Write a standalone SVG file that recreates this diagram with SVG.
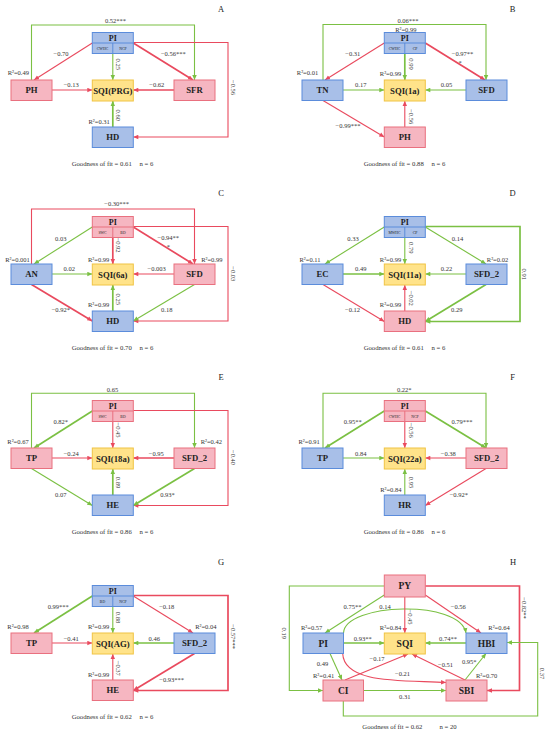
<svg xmlns="http://www.w3.org/2000/svg" width="550" height="733" viewBox="0 0 550 733">
<style>
.pk{fill:#F6B6C1;stroke:#E9707F;stroke-width:1}
.bl{fill:#A8BFE8;stroke:#5B8CDB;stroke-width:1}
.ye{fill:#FFE38A;stroke:#F0C444;stroke-width:1}
.dv{fill:none}
.r{fill:none;stroke:#E94A5E;stroke-width:1.1;marker-end:url(#mr)}
.g{fill:none;stroke:#7BC043;stroke-width:1.1;marker-end:url(#mg)}
.t{stroke-width:1.7}
text{font-family:"Liberation Serif","Times New Roman",serif;fill:#222}
.nl{font-size:8.7px;font-weight:bold;text-anchor:middle}
.hl{font-size:9.5px;font-weight:bold;text-anchor:middle}
.pl{font-size:8px;font-weight:bold;text-anchor:middle}
.cl{font-size:3.8px;text-anchor:middle}
.el{font-size:6.5px;text-anchor:middle;fill:#333}
.gf{font-size:6.7px;fill:#333}
.ge{font-size:6.7px;fill:#333;text-anchor:end}
.lt{font-size:8.5px;text-anchor:middle}
</style>
<defs>
<marker id="mr" viewBox="0 0 10 10" refX="10" refY="5" markerWidth="5.5" markerHeight="5" markerUnits="userSpaceOnUse" orient="auto"><path d="M0,0.5L10,5L0,9.5z" fill="#E94A5E"/></marker>
<marker id="mg" viewBox="0 0 10 10" refX="10" refY="5" markerWidth="5.5" markerHeight="5" markerUnits="userSpaceOnUse" orient="auto"><path d="M0,0.5L10,5L0,9.5z" fill="#7BC043"/></marker>
</defs>
<rect x="0" y="0" width="550" height="733" fill="#fff"/>

<!-- Panel A -->
<g id="panelA">
<text class="lt" x="221" y="11.5">A</text>
<g id="A-connectors">
<path class="g" d="M31.5,80V25H194.5V80"/>
<path class="r" d="M92.3,43L34,80"/>
<path class="g" d="M112.8,53.5V80"/>
<path class="r t" d="M133.3,43L193,80"/>
<path class="r" d="M133.3,42.5H228V137H133.3"/>
<path class="r" d="M52,90H92.3"/>
<path class="r t" d="M174,90H133.3"/>
<path class="g t" d="M112.8,127V101"/>
<text class="el" x="115.5" y="23">0.52***</text>
<text class="el" x="61" y="55.5">−0.70</text>
<text class="el" x="173.3" y="55.5">−0.56***</text>
<text class="el" transform="translate(116.3,64.2) rotate(90)">0.25</text>
<text class="el" transform="translate(231.3,87.5) rotate(90)">−0.56</text>
<text class="el" x="71.2" y="87.3">−0.13</text>
<text class="el" x="156.8" y="87.3">−0.62</text>
<text class="el" transform="translate(116.3,115.3) rotate(90)">0.60</text>
<text class="el" x="18.3" y="75">R²=0.49</text>
<text class="el" x="99.2" y="124">R²=0.31</text>
</g>
<g id="A-PI"><rect class="bl" x="92.3" y="32.5" width="41" height="21"/><path class="bl dv" d="M92.3,43H133.3M112.8,43V53.5"/><text class="pl" x="112.8" y="40.6">PI</text><text class="cl" x="102.5" y="49.6">CWHC</text><text class="cl" x="123" y="49.6">NCP</text></g>
<g id="A-SQI"><rect class="ye" x="92.3" y="80" width="41" height="21"/><text class="nl" x="112.8" y="93.6">SQI(PRG)</text></g>
<g id="A-PH"><rect class="pk" x="11" y="80" width="41" height="20.5"/><text class="nl" x="31.5" y="93.4">PH</text></g>
<g id="A-SFR"><rect class="pk" x="174" y="80" width="41" height="20.5"/><text class="nl" x="194.5" y="93.4">SFR</text></g>
<g id="A-HD"><rect class="bl" x="92.3" y="127" width="41" height="20.5"/><text class="nl" x="112.8" y="140.4">HD</text></g>
<text class="gf" x="71.7" y="165.5">Goodness of fit = 0.61</text><text class="ge" x="153.3" y="165.5">n = 6</text>
</g>

<!-- Panel B -->
<g id="panelB" transform="translate(292,0)">
<text class="lt" x="220.5" y="11.5">B</text>
<g id="B-connectors">
<path class="g" d="M31,80V24.5H194V80"/>
<path class="r" d="M92.3,43L33,80"/>
<path class="g t" d="M112.8,53.5V80"/>
<path class="r t" d="M133.3,43L193,80"/>
<path class="g" d="M51,90H92.3"/>
<path class="g" d="M174,90H133.3"/>
<path class="r" d="M31,100.5L92.3,137"/>
<path class="r" d="M112.8,127V101"/>
<text class="el" x="116" y="22.5">0.06***</text>
<text class="el" x="113.8" y="32">R²=0.99</text>
<text class="el" x="60.8" y="55.5">−0.31</text>
<text class="el" transform="translate(116.5,64) rotate(90)">0.99</text>
<text class="el" x="170.5" y="55.5">−0.97**</text>
<text class="el" x="168" y="64.5">*</text>
<text class="el" x="98.5" y="76.2">R²=0.99</text>
<text class="el" x="15.5" y="75">R²=0.01</text>
<text class="el" x="68.8" y="87.3">0.17</text>
<text class="el" x="154.5" y="87.3">0.05</text>
<text class="el" x="56" y="128.2">−0.99***</text>
<text class="el" transform="translate(116.5,116.7) rotate(90)">−0.56</text>
</g>
<g id="B-PI"><rect class="bl" x="92.3" y="32.5" width="41" height="21"/><path class="bl dv" d="M92.3,43H133.3M112.8,43V53.5"/><text class="pl" x="112.8" y="40.6">PI</text><text class="cl" x="102.5" y="49.6">CWHC</text><text class="cl" x="123" y="49.6">CP</text></g>
<g id="B-SQI"><rect class="ye" x="92.3" y="80" width="41" height="21"/><text class="nl" x="112.8" y="93.6">SQI(1a)</text></g>
<g id="B-TN"><rect class="bl" x="10" y="80" width="41" height="20.5"/><text class="nl" x="30.5" y="93.4">TN</text></g>
<g id="B-SFD"><rect class="bl" x="174" y="80" width="41" height="20.5"/><text class="nl" x="194.5" y="93.4">SFD</text></g>
<g id="B-PH"><rect class="pk" x="92.3" y="127" width="41" height="20.5"/><text class="nl" x="112.8" y="140.4">PH</text></g>
<text class="gf" x="71.7" y="165.5">Goodness of fit = 0.88</text><text class="ge" x="153.3" y="165.5">n = 6</text>
</g>

<!-- Panel C -->
<g id="panelC" transform="translate(0,184)">
<text class="lt" x="221" y="11.5">C</text>
<g id="C-connectors">
<path class="r" d="M31.5,80V25H194.5V80"/>
<path class="g" d="M92.3,43L34,80"/>
<path class="r t" d="M112.8,53.5V80"/>
<path class="r t" d="M133.3,43L193,80"/>
<path class="r" d="M133.3,42.5H228V137H133.3"/>
<path class="g" d="M52,90H92.3"/>
<path class="r" d="M174,90H133.3"/>
<path class="r t" d="M31.5,100.5L92.3,137"/>
<path class="g" d="M194.5,100.5L133.3,137"/>
<path class="g t" d="M112.8,127V101"/>
<text class="el" x="116.7" y="22.2">−0.30***</text>
<text class="el" x="60.8" y="56.5">0.03</text>
<text class="el" transform="translate(116.3,61) rotate(90)">−0.92</text>
<text class="el" x="168.3" y="55.5">−0.94**</text>
<text class="el" x="168.3" y="64.5">*</text>
<text class="el" transform="translate(231.3,89.8) rotate(90)">−0.03</text>
<text class="el" x="17.5" y="77.5">R²=0.001</text>
<text class="el" x="98.7" y="77.5">R²=0.99</text>
<text class="el" x="211.8" y="77.5">R²=0.99</text>
<text class="el" x="69.2" y="87.3">0.02</text>
<text class="el" x="156.7" y="87.3">−0.003</text>
<text class="el" x="60.8" y="128.2">−0.92*</text>
<text class="el" x="166.8" y="128.2">0.18</text>
<text class="el" transform="translate(116.3,115.2) rotate(90)">0.25</text>
<text class="el" x="98.7" y="123.2">R²=0.99</text>
</g>
<g id="C-PI"><rect class="pk" x="92.3" y="32.5" width="41" height="21"/><path class="pk dv" d="M92.3,43H133.3M112.8,43V53.5"/><text class="pl" x="112.8" y="40.6">PI</text><text class="cl" x="102.5" y="49.6">SWC</text><text class="cl" x="123" y="49.6">BD</text></g>
<g id="C-SQI"><rect class="ye" x="92.3" y="80" width="41" height="21"/><text class="nl" x="112.8" y="93.6">SQI(6a)</text></g>
<g id="C-AN"><rect class="bl" x="11" y="80" width="41" height="20.5"/><text class="nl" x="31.5" y="93.4">AN</text></g>
<g id="C-SFD"><rect class="pk" x="174" y="80" width="41" height="20.5"/><text class="nl" x="194.5" y="93.4">SFD</text></g>
<g id="C-HD"><rect class="bl" x="92.3" y="127" width="41" height="20.5"/><text class="nl" x="112.8" y="140.4">HD</text></g>
<text class="gf" x="71.7" y="165.5">Goodness of fit = 0.70</text><text class="ge" x="153.3" y="165.5">n = 6</text>
</g>

<!-- Panel D -->
<g id="panelD" transform="translate(292,184)">
<text class="lt" x="220.5" y="11.5">D</text>
<g id="D-connectors">
<path class="g" d="M92.3,43L33,80"/>
<path class="g" d="M112.8,53.5V80"/>
<path class="g" d="M133.3,43L194,80"/>
<path class="g t" d="M133.3,42.5H228V137.5H133.3"/>
<path class="g t" d="M51,90H92.3"/>
<path class="g" d="M174,90H133.3"/>
<path class="r" d="M31,100.5L92.3,137.5"/>
<path class="g t" d="M194,100.5L133.3,137.5"/>
<path class="r" d="M112.8,127V101"/>
<text class="el" x="61" y="56.5">0.33</text>
<text class="el" transform="translate(116.5,63.8) rotate(90)">0.79</text>
<text class="el" x="165.5" y="56.5">0.14</text>
<text class="el" transform="translate(229.9,90.2) rotate(90)">0.91</text>
<text class="el" x="18" y="77.5">R²=0.11</text>
<text class="el" x="98.5" y="77.5">R²=0.99</text>
<text class="el" x="205.5" y="77.5">R²=0.02</text>
<text class="el" x="68.8" y="87.3">0.49</text>
<text class="el" x="154.5" y="87.3">0.22</text>
<text class="el" x="60.5" y="128.2">−0.12</text>
<text class="el" x="164.7" y="128.2">0.29</text>
<text class="el" transform="translate(116.5,114.3) rotate(90)">−0.02</text>
<text class="el" x="98.5" y="123.2">R²=0.99</text>
</g>
<g id="D-PI"><rect class="bl" x="92.3" y="32.5" width="41" height="21"/><path class="bl dv" d="M92.3,43H133.3M112.8,43V53.5"/><text class="pl" x="112.8" y="40.6">PI</text><text class="cl" x="102.5" y="49.6">MWHC</text><text class="cl" x="123" y="49.6">CP</text></g>
<g id="D-SQI"><rect class="ye" x="92.3" y="80" width="41" height="21"/><text class="nl" x="112.8" y="93.6">SQI(11a)</text></g>
<g id="D-EC"><rect class="bl" x="10" y="80" width="41" height="20.5"/><text class="nl" x="30.5" y="93.4">EC</text></g>
<g id="D-SFD_2"><rect class="bl" x="174" y="80" width="41" height="20.5"/><text class="nl" x="194.5" y="93.4">SFD_2</text></g>
<g id="D-HD"><rect class="pk" x="92.3" y="127" width="41" height="20.5"/><text class="nl" x="112.8" y="140.4">HD</text></g>
<text class="gf" x="71.7" y="165.5">Goodness of fit = 0.61</text><text class="ge" x="153.3" y="165.5">n = 6</text>
</g>

<!-- Panel E -->
<g id="panelE" transform="translate(0,368)">
<text class="lt" x="221" y="11.5">E</text>
<g id="E-connectors">
<path class="g" d="M31.5,80V25.3H194.5V80"/>
<path class="g t" d="M92.3,43L34,80"/>
<path class="r" d="M112.8,53.5V80"/>
<path class="r" d="M133.3,42.5H228V137.5H133.3"/>
<path class="r" d="M52,90H92.3"/>
<path class="r t" d="M174,90H133.3"/>
<path class="g" d="M31.5,100.5L92.3,137.5"/>
<path class="g t" d="M194.5,100.5L133.3,137.5"/>
<path class="g t" d="M112.8,127V101"/>
<text class="el" x="112.5" y="23.5">0.65</text>
<text class="el" x="60.7" y="56">0.82*</text>
<text class="el" transform="translate(116.3,62) rotate(90)">−0.45</text>
<text class="el" transform="translate(231.3,89.5) rotate(90)">−0.40</text>
<text class="el" x="18" y="75.9">R²=0.67</text>
<text class="el" x="211.3" y="75.9">R²=0.42</text>
<text class="el" x="71.2" y="87.5">−0.24</text>
<text class="el" x="156.3" y="87.5">−0.95</text>
<text class="el" x="60.8" y="129.2">0.07</text>
<text class="el" x="167.5" y="129.2">0.93*</text>
<text class="el" transform="translate(116.3,114.5) rotate(90)">0.89</text>
</g>
<g id="E-PI"><rect class="pk" x="92.3" y="32.5" width="41" height="21"/><path class="pk dv" d="M92.3,43H133.3M112.8,43V53.5"/><text class="pl" x="112.8" y="40.6">PI</text><text class="cl" x="102.5" y="49.6">SWC</text><text class="cl" x="123" y="49.6">BD</text></g>
<g id="E-SQI"><rect class="ye" x="92.3" y="80" width="41" height="21"/><text class="nl" x="112.8" y="93.6">SQI(18a)</text></g>
<g id="E-TP"><rect class="pk" x="11" y="80" width="41" height="20.5"/><text class="nl" x="31.5" y="93.4">TP</text></g>
<g id="E-SFD_2"><rect class="pk" x="174" y="80" width="41" height="20.5"/><text class="nl" x="194.5" y="93.4">SFD_2</text></g>
<g id="E-HE"><rect class="bl" x="92.3" y="127" width="41" height="20.5"/><text class="nl" x="112.8" y="140.4">HE</text></g>
<text class="gf" x="71.7" y="165.5">Goodness of fit = 0.86</text><text class="ge" x="153.3" y="165.5">n = 6</text>
</g>

<!-- Panel F -->
<g id="panelF" transform="translate(292,368)">
<text class="lt" x="220.5" y="11.5">F</text>
<g id="F-connectors">
<path class="g" d="M31,80V25.3H194V80"/>
<path class="g t" d="M92.3,43L33,80"/>
<path class="r" d="M112.8,53.5V80"/>
<path class="g t" d="M133.3,43L194,80"/>
<path class="g" d="M51,90H92.3"/>
<path class="r" d="M174,90H133.3"/>
<path class="r" d="M194,100.5L133.3,137.5"/>
<path class="g" d="M112.8,127V101"/>
<text class="el" x="112.2" y="23.5">0.22*</text>
<text class="el" x="60.7" y="56">0.95**</text>
<text class="el" transform="translate(116.5,62.3) rotate(90)">−0.56</text>
<text class="el" x="170" y="56">0.79***</text>
<text class="el" x="17.2" y="75.9">R²=0.91</text>
<text class="el" x="68.8" y="87.5">0.84</text>
<text class="el" x="156.3" y="87.5">−0.38</text>
<text class="el" x="166.8" y="129.2">−0.92*</text>
<text class="el" transform="translate(116.5,114.5) rotate(90)">0.95</text>
<text class="el" x="98.8" y="124.2">R²=0.84</text>
</g>
<g id="F-PI"><rect class="pk" x="92.3" y="32.5" width="41" height="21"/><path class="pk dv" d="M92.3,43H133.3M112.8,43V53.5"/><text class="pl" x="112.8" y="40.6">PI</text><text class="cl" x="102.5" y="49.6">CWHC</text><text class="cl" x="123" y="49.6">NCP</text></g>
<g id="F-SQI"><rect class="ye" x="92.3" y="80" width="41" height="21"/><text class="nl" x="112.8" y="93.6">SQI(22a)</text></g>
<g id="F-TP"><rect class="bl" x="10" y="80" width="41" height="20.5"/><text class="nl" x="30.5" y="93.4">TP</text></g>
<g id="F-SFD_2"><rect class="pk" x="174" y="80" width="41" height="20.5"/><text class="nl" x="194.5" y="93.4">SFD_2</text></g>
<g id="F-HR"><rect class="bl" x="92.3" y="127" width="41" height="20.5"/><text class="nl" x="112.8" y="140.4">HR</text></g>
<text class="gf" x="71.7" y="165.5">Goodness of fit = 0.86</text><text class="ge" x="153.3" y="165.5">n = 6</text>
</g>

<!-- Panel G -->
<g id="panelG" transform="translate(0,553)">
<text class="lt" x="221" y="11.5">G</text>
<g id="G-connectors">
<path class="g t" d="M92.3,43L34,80"/>
<path class="g" d="M112.8,53.5V80"/>
<path class="r" d="M133.3,43L193,80"/>
<path class="r t" d="M133.3,42.5H228V137.5H133.3"/>
<path class="r" d="M52,90H92.3"/>
<path class="g t" d="M174,90H133.3"/>
<path class="r t" d="M194.5,100.5L133.3,137.5"/>
<path class="r" d="M112.8,127V101"/>
<text class="el" x="58.3" y="56">0.99***</text>
<text class="el" transform="translate(116.3,64.5) rotate(90)">0.88</text>
<text class="el" x="166.7" y="56">−0.18</text>
<text class="el" transform="translate(231.3,83.7) rotate(90)">−0.57***</text>
<text class="el" x="18" y="75.9">R²=0.98</text>
<text class="el" x="98.7" y="75.9">R²=0.99</text>
<text class="el" x="205.8" y="75.9">R²=0.04</text>
<text class="el" x="71.2" y="87.5">−0.41</text>
<text class="el" x="154.2" y="87.5">0.46</text>
<text class="el" x="171.7" y="129.2">−0.93***</text>
<text class="el" transform="translate(116.3,115.3) rotate(90)">−0.37</text>
<text class="el" x="98.7" y="124.2">R²=0.99</text>
</g>
<g id="G-PI"><rect class="bl" x="92.3" y="32.5" width="41" height="21"/><path class="bl dv" d="M92.3,43H133.3M112.8,43V53.5"/><text class="pl" x="112.8" y="40.6">PI</text><text class="cl" x="102.5" y="49.6">BD</text><text class="cl" x="123" y="49.6">NCP</text></g>
<g id="G-SQI"><rect class="ye" x="92.3" y="80" width="41" height="21"/><text class="nl" x="112.8" y="93.6">SQI(AG)</text></g>
<g id="G-TP"><rect class="pk" x="11" y="80" width="41" height="20.5"/><text class="nl" x="31.5" y="93.4">TP</text></g>
<g id="G-SFD_2"><rect class="bl" x="174" y="80" width="41" height="20.5"/><text class="nl" x="194.5" y="93.4">SFD_2</text></g>
<g id="G-HE"><rect class="pk" x="92.3" y="127" width="41" height="20.5"/><text class="nl" x="112.8" y="140.4">HE</text></g>
<text class="gf" x="71.7" y="165.5">Goodness of fit = 0.62</text><text class="ge" x="153.3" y="165.5">n = 6</text>
</g>

<!-- Panel H -->
<g id="panelH" transform="translate(292,553)">
<text class="lt" x="221" y="11.5">H</text>
<g id="H-connectors">
<path class="g" d="M92.3,42L33,80"/>
<path class="g" d="M51.5,80C53,50 168,46 174,80"/>
<path class="r" d="M112.8,44V80"/>
<path class="r" d="M133.3,42L189,80"/>
<path class="r t" d="M133.3,33H227.5V137.5H195"/>
<path class="g" d="M92.3,33H-2.7V137.5H31"/>
<path class="g t" d="M51,90H92.3"/>
<path class="g t" d="M174,90H133.3"/>
<path class="g" d="M38,100.5L50,127"/>
<path class="r" d="M53,127L116,101"/>
<path class="r" d="M50.7,100.5C52,131 110,127 154,129.5"/>
<path class="r" d="M173,127L120,101"/>
<path class="g" d="M173,127L194,100.5"/>
<path class="g" d="M71,137.5H154"/>
<path class="g" d="M51.3,148V163H245.7V89.5H215"/>
<text class="el" x="60.5" y="56">0.75**</text>
<text class="el" x="93" y="55.5">0.14</text>
<text class="el" transform="translate(116.3,64) rotate(90)">−0.45</text>
<text class="el" x="166.3" y="56">−0.56</text>
<text class="el" transform="translate(230,55) rotate(90)">−0.82**</text>
<text class="el" transform="translate(-10.3,80.3) rotate(90)">0.19</text>
<text class="el" x="19.7" y="76.5">R²=0.57</text>
<text class="el" x="98.5" y="76.5">R²=0.84</text>
<text class="el" x="207" y="77">R²=0.64</text>
<text class="el" x="70.8" y="87.5">0.93**</text>
<text class="el" x="156" y="87.5">0.74**</text>
<text class="el" x="30.5" y="113">0.49</text>
<text class="el" x="85" y="107.5">−0.17</text>
<text class="el" x="110.5" y="123">−0.21</text>
<text class="el" x="153.5" y="113.5">−0.51</text>
<text class="el" x="177.2" y="110.5">0.95*</text>
<text class="el" x="31.7" y="125">R²=0.41</text>
<text class="el" x="194.7" y="125">R²=0.70</text>
<text class="el" x="112.7" y="146">0.31</text>
<text class="el" transform="translate(247.5,120.5) rotate(90)">0.37</text>
</g>
<g id="H-PY"><rect class="pk" x="92.3" y="22" width="41" height="22"/><text class="hl" x="112.8" y="36.3">PY</text></g>
<g id="H-PI"><rect class="bl" x="11" y="80" width="40.5" height="20.5"/><text class="hl" x="31.2" y="93.7">PI</text></g>
<g id="H-SQI"><rect class="ye" x="92.3" y="80" width="41" height="21"/><text class="hl" x="112.8" y="93.9">SQI</text></g>
<g id="H-HBI"><rect class="bl" x="174" y="80" width="41" height="20.5"/><text class="hl" x="194.5" y="93.7">HBI</text></g>
<g id="H-CI"><rect class="pk" x="31" y="127" width="40.5" height="21"/><text class="hl" x="51.2" y="140.8">CI</text></g>
<g id="H-SBI"><rect class="pk" x="154" y="127" width="41" height="21"/><text class="hl" x="174.5" y="140.8">SBI</text></g>
<text class="gf" x="70.3" y="176">Goodness of fit = 0.62</text><text class="ge" x="164.7" y="176">n = 20</text>
</g>
</svg>
